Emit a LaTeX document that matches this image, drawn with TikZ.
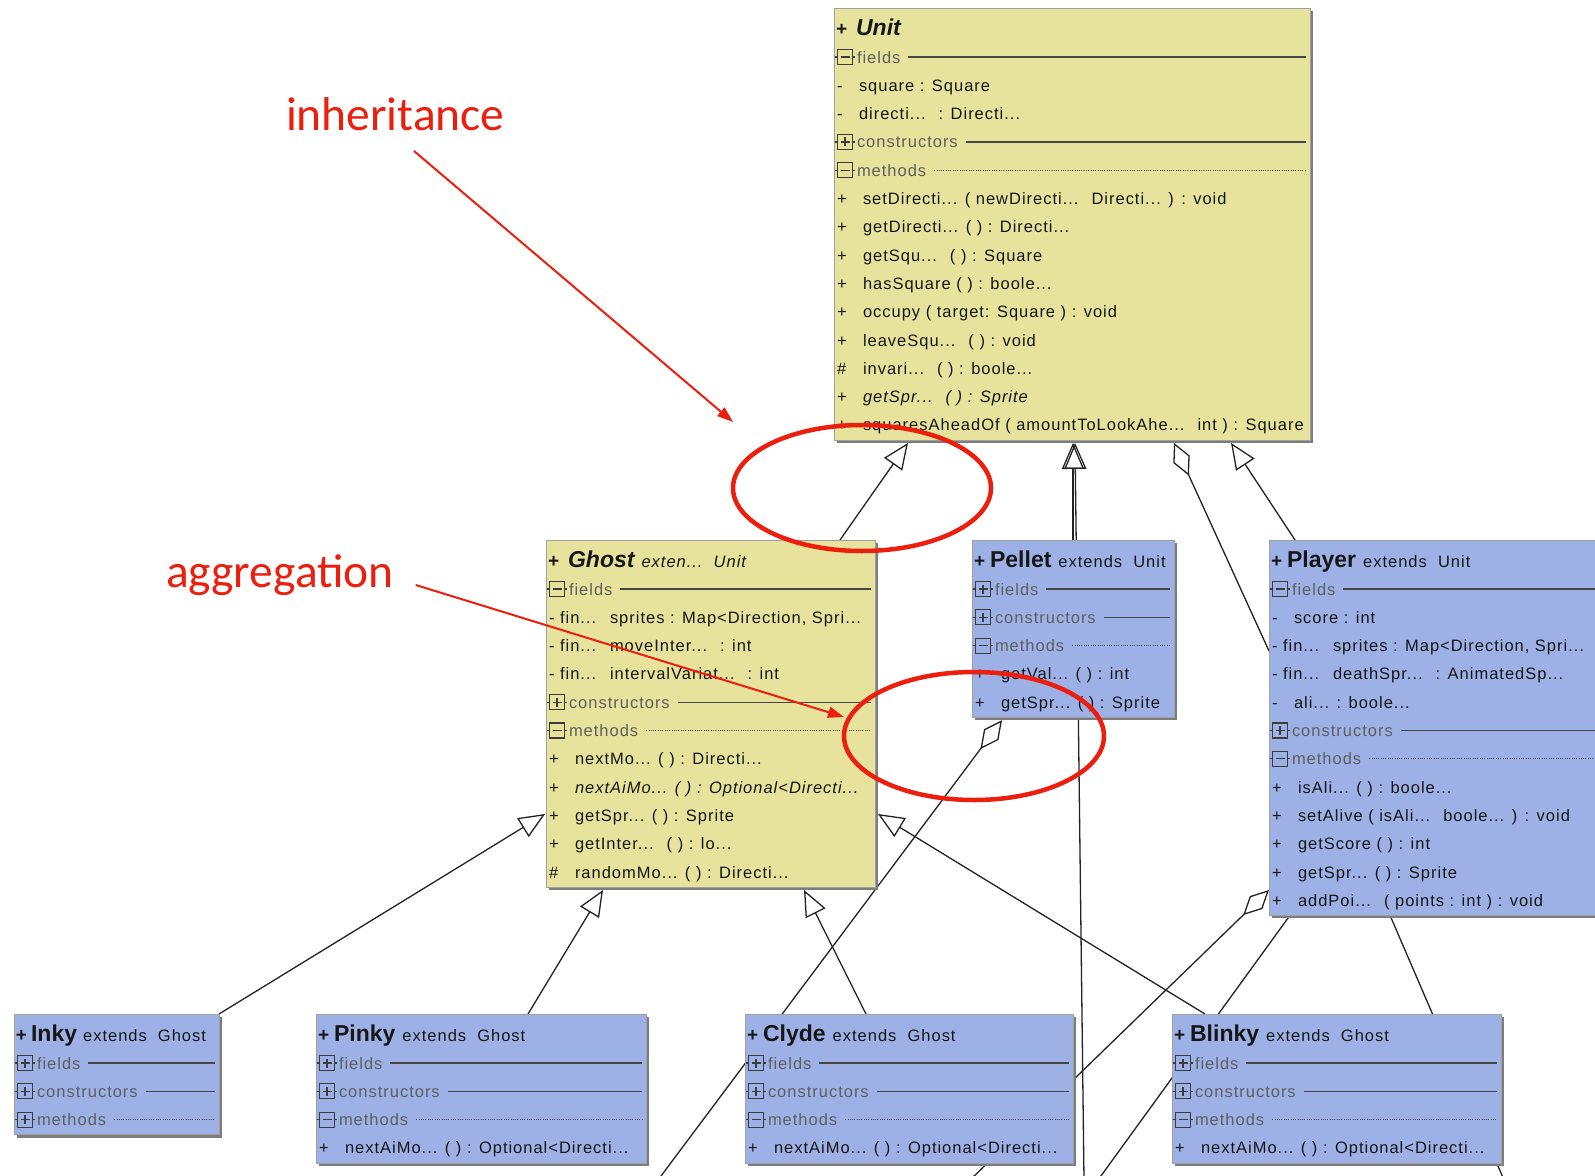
\documentclass[tikz,border=0pt]{standalone}
\usepackage{fontspec}
\usetikzlibrary{calc,arrows.meta,shapes.geometric}
\newfontfamily\umlfont{Liberation Sans}[LetterSpace=6]
\newfontfamily\umlhead{Liberation Sans}
\newfontfamily\notefont{Carlito}

\definecolor{umlyellow}{RGB}{231,227,157}
\definecolor{umlblue}{RGB}{157,177,231}
\definecolor{boxedge}{RGB}{160,160,160}
\definecolor{boxshadow}{RGB}{125,125,125}
\definecolor{umltext}{RGB}{22,22,22}
\definecolor{sectext}{RGB}{95,95,95}
\definecolor{sepline}{RGB}{70,70,70}
\definecolor{iconline}{RGB}{60,60,60}
\definecolor{wirecol}{RGB}{35,35,35}
\definecolor{notered}{RGB}{236,30,14}

\pgfdeclarelayer{paper}
\pgfdeclarelayer{wires}
\pgfsetlayers{paper,wires,main}

\tikzset{
  every node/.style={inner sep=0pt, outer sep=0pt},
  rowtext/.style={font=\umlfont\fontsize{16.5}{18}\selectfont, text=umltext, anchor=base west},
  sectext/.style={font=\umlfont\fontsize{16.5}{18}\selectfont, text=sectext, anchor=base west},
  classbox/.style={draw=boxedge, line width=0.8pt, anchor=north west},
  yellowclass/.style={classbox, fill=umlyellow},
  blueclass/.style={classbox, fill=umlblue},
  solidsep/.style={draw=sepline, line width=1.2pt},
  dotsep/.style={draw=sepline, line width=0.9pt, dash pattern=on 0.9pt off 1.4pt},
  iconstroke/.style={draw=iconline, line width=1.2pt},
  wire/.style={draw=wirecol, line width=1.3pt},
  inherit/.style={wire, -{Triangle[open, length=26pt, width=22pt]}},
  aggreg/.style={wire, {Diamond[open, length=36pt, width=18pt]}-},
  notearrow/.style={draw=notered, line width=2pt, -{Triangle[length=16pt, width=11pt]}},
  notering/.style={draw=notered, line width=4.5pt, ellipse},
  notetext/.style={font=\notefont\fontsize{47.5}{50}\selectfont, text=notered, anchor=base west},
}

% class box with drop shadow: name, style, left, top, width, number of rows
\newcommand\umlclass[6]{%
  \pgfmathsetmacro\clsh{64+(#6-1)*28.3}%
  \fill[boxshadow] (#3+3,#4+3) rectangle ++(#5,\clsh);
  \node[#2, minimum width=#5*1pt, minimum height=\clsh*1pt] (#1) at (#3,#4) {};
}
\newcommand\umltitle[2]{%
  \node[anchor=base west, text=umltext] (#1-title) at ($(#1.north west)+(2,27)$) {#2};
}
\newcommand\plusmark{{\umlhead\bfseries\fontsize{19}{20}\selectfont+}}
\newcommand\clsname[1]{{\umlhead\bfseries\fontsize{23}{26}\selectfont#1}}
\newcommand\clsnote[1]{{\umlfont\fontsize{16.5}{18}\selectfont#1}}

% compartment header: box, row, plus(1)/minus(0), label, separator style
\newcommand\umlsec[5]{%
  \pgfmathsetmacro\secy{49+(#2-1)*28.3}%
  \coordinate (#1-s#2) at ($(#1.north west)+(0,\secy)$);
  \draw[iconstroke] ($(#1-s#2)+(3.5,-7.5)$) rectangle ($(#1-s#2)+(18.5,7.5)$);
  \draw[iconstroke] ($(#1-s#2)+(0.5,0)$) -- ($(#1-s#2)+(3.5,0)$)
                    ($(#1-s#2)+(18.5,0)$) -- ($(#1-s#2)+(21,0)$)
                    ($(#1-s#2)+(6.5,0)$) -- ($(#1-s#2)+(15.5,0)$);
  \ifnum#3=1 \draw[iconstroke] ($(#1-s#2)+(11,-4.5)$) -- ($(#1-s#2)+(11,4.5)$);\fi
  \node[sectext] (#1-h#2) at ($(#1-s#2)+(23,6)$) {#4};
  \draw[#5] ($(#1-h#2.east |- #1-s#2)+(8,0)$) -- ($(#1.north east)+(-4,\secy)$);
}
% member row: box, row, visibility marker, text offset, text
\newcommand\umlrow[5]{%
  \pgfmathsetmacro\rowy{55+(#2-1)*28.3}%
  \node[rowtext] (#1-m#2) at ($(#1.north west)+(3,\rowy)$) {#3};
  \node[rowtext] (#1-t#2) at ($(#1.north west)+(#4,\rowy)$) {#5};
}
\newcommand\umlfield[4]{\umlrow{#1}{#2}{#3}{25}{#4}}
\newcommand\umlmethod[4]{\umlrow{#1}{#2}{#3}{29}{#4}}
\newcommand\umlfinal[3]{\umlrow{#1}{#2}{- fin...}{64}{#3}}

\begin{document}
\begin{tikzpicture}[x=1pt,y=-1pt]
\useasboundingbox (0,0) rectangle (1595,1175);
\begin{pgfonlayer}{paper}
  \fill[white] (0,0) rectangle (1595,1175);
\end{pgfonlayer}

% ---------- Unit ----------
\umlclass{unit}{yellowclass}{834}{8}{476}{14}
\umltitle{unit}{\plusmark\hspace{9pt}\clsname{\itshape Unit}}
\umlsec{unit}{1}{0}{fields}{solidsep}
\umlfield{unit}{2}{-}{square : Square}
\umlfield{unit}{3}{-}{directi...~ : Directi...}
\umlsec{unit}{4}{1}{constructors}{solidsep}
\umlsec{unit}{5}{0}{methods}{dotsep}
\umlmethod{unit}{6}{+}{setDirecti... ( newDirecti...~ Directi... ) : void}
\umlmethod{unit}{7}{+}{getDirecti... ( ) : Directi...}
\umlmethod{unit}{8}{+}{getSqu...~ ( ) : Square}
\umlmethod{unit}{9}{+}{hasSquare ( ) : boole...}
\umlmethod{unit}{10}{+}{occupy ( target: Square ) : void}
\umlmethod{unit}{11}{+}{leaveSqu...~ ( ) : void}
\umlmethod{unit}{12}{\#}{invari...~ ( ) : boole...}
\umlmethod{unit}{13}{+}{\itshape getSpr...~ ( ) : Sprite}
\umlmethod{unit}{14}{+}{squaresAheadOf ( amountToLookAhe...~ int ) : Square}

% ---------- Ghost ----------
\umlclass{ghost}{yellowclass}{546}{540}{329}{11}
\umltitle{ghost}{\plusmark\hspace{9pt}\clsname{\itshape Ghost}\hspace{7pt}\clsnote{\itshape exten...~~Unit}}
\umlsec{ghost}{1}{0}{fields}{solidsep}
\umlfinal{ghost}{2}{sprites : Map<Direction, Spri...}
\umlfinal{ghost}{3}{moveInter...~ : int}
\umlfinal{ghost}{4}{intervalVariat...~ : int}
\umlsec{ghost}{5}{1}{constructors}{solidsep}
\umlsec{ghost}{6}{0}{methods}{dotsep}
\umlmethod{ghost}{7}{+}{nextMo... ( ) : Directi...}
\umlmethod{ghost}{8}{+}{\itshape nextAiMo... ( ) : Optional<Directi...}
\umlmethod{ghost}{9}{+}{getSpr... ( ) : Sprite}
\umlmethod{ghost}{10}{+}{getInter...~ ( ) : lo...}
\umlmethod{ghost}{11}{\#}{randomMo... ( ) : Directi...}

% ---------- Pellet ----------
\umlclass{pellet}{blueclass}{972}{540}{202}{5}
\umltitle{pellet}{\plusmark\hspace{5pt}\clsname{Pellet}\hspace{7pt}\clsnote{extends~~Unit}}
\umlsec{pellet}{1}{1}{fields}{solidsep}
\umlsec{pellet}{2}{1}{constructors}{solidsep}
\umlsec{pellet}{3}{0}{methods}{dotsep}
\umlmethod{pellet}{4}{+}{getVal... ( ) : int}
\umlmethod{pellet}{5}{+}{getSpr... ( ) : Sprite}

% ---------- Player ----------
\umlclass{player}{blueclass}{1269}{540}{331}{12}
\umltitle{player}{\plusmark\hspace{5pt}\clsname{Player}\hspace{7pt}\clsnote{extends~~Unit}}
\umlsec{player}{1}{0}{fields}{solidsep}
\umlfield{player}{2}{-}{score : int}
\umlfinal{player}{3}{sprites : Map<Direction, Spri...}
\umlfinal{player}{4}{deathSpr...~ : AnimatedSp...}
\umlfield{player}{5}{-}{ali... : boole...}
\umlsec{player}{6}{1}{constructors}{solidsep}
\umlsec{player}{7}{0}{methods}{dotsep}
\umlmethod{player}{8}{+}{isAli... ( ) : boole...}
\umlmethod{player}{9}{+}{setAlive ( isAli...~ boole... ) : void}
\umlmethod{player}{10}{+}{getScore ( ) : int}
\umlmethod{player}{11}{+}{getSpr... ( ) : Sprite}
\umlmethod{player}{12}{+}{addPoi...~ ( points : int ) : void}

% ---------- ghost subclasses ----------
\umlclass{inky}{blueclass}{14}{1014}{205}{3}
\umltitle{inky}{\plusmark\hspace{4pt}\clsname{Inky}\hspace{6pt}\clsnote{extends~~Ghost}}
\umlsec{inky}{1}{1}{fields}{solidsep}
\umlsec{inky}{2}{1}{constructors}{solidsep}
\umlsec{inky}{3}{1}{methods}{dotsep}

\umlclass{pinky}{blueclass}{316}{1014}{330}{4}
\umltitle{pinky}{\plusmark\hspace{5pt}\clsname{Pinky}\hspace{7pt}\clsnote{extends~~Ghost}}
\umlsec{pinky}{1}{1}{fields}{solidsep}
\umlsec{pinky}{2}{1}{constructors}{solidsep}
\umlsec{pinky}{3}{0}{methods}{dotsep}
\umlmethod{pinky}{4}{+}{nextAiMo... ( ) : Optional<Directi...}

\umlclass{clyde}{blueclass}{745}{1014}{328}{4}
\umltitle{clyde}{\plusmark\hspace{5pt}\clsname{Clyde}\hspace{7pt}\clsnote{extends~~Ghost}}
\umlsec{clyde}{1}{1}{fields}{solidsep}
\umlsec{clyde}{2}{1}{constructors}{solidsep}
\umlsec{clyde}{3}{0}{methods}{dotsep}
\umlmethod{clyde}{4}{+}{nextAiMo... ( ) : Optional<Directi...}

\umlclass{blinky}{blueclass}{1172}{1014}{329}{4}
\umltitle{blinky}{\plusmark\hspace{5pt}\clsname{Blinky}\hspace{7pt}\clsnote{extends~~Ghost}}
\umlsec{blinky}{1}{1}{fields}{solidsep}
\umlsec{blinky}{2}{1}{constructors}{solidsep}
\umlsec{blinky}{3}{0}{methods}{dotsep}
\umlmethod{blinky}{4}{+}{nextAiMo... ( ) : Optional<Directi...}

% ---------- connectors (behind the boxes) ----------
\coordinate (offA) at (1084,1180);
\coordinate (offB) at (658,1180);
\coordinate (offC) at (970,1180);
\coordinate (offD) at (1098,1180);
\coordinate (offE) at (1504,1180);
\begin{pgfonlayer}{wires}
  \draw[inherit] ($(ghost.north west)+(294,0)$) -- ($(unit.south west)+(74,3)$);
  \draw[inherit] ($(pellet.north west)+(101,0)$) -- ($(unit.south west)+(239,3)$);
  \draw[inherit] (offA) -- ($(unit.south west)+(241,3)$);
  \draw[aggreg] ($(unit.south west)+(340,3)$) -- ($(player.north west)+(0,111)$);
  \draw[inherit] ($(player.north west)+(26,0)$) -- ($(unit.south west)+(397,3)$);
  \draw[inherit] (inky.north east) -- ($(ghost.north west)+(-1,274)$);
  \draw[inherit] ($(pinky.north west)+(212,0)$) -- ($(ghost.south west)+(57,3)$);
  \draw[inherit] ($(clyde.north west)+(121,0)$) -- ($(ghost.south west)+(258,3)$);
  \draw[inherit] ($(blinky.north west)+(33,0)$) -- ($(ghost.north east)+(3,274)$);
  \draw[aggreg] ($(pellet.south west)+(30,3)$) -- (offB);
  \draw[aggreg] ($(player.north west)+(0,350)$) -- (offC);
  \draw[wire] ($(player.south west)+(21,0)$) -- (offD);
  \draw[wire] ($(player.south west)+(121,0)$) -- (offE);
\end{pgfonlayer}

% ---------- annotations ----------
\node[notetext] (inh) at (286,130) {inheritance};
\node[notetext] (agg) at (166,587) {aggregation};
\node[notering, minimum width=258pt, minimum height=126pt] (ring1) at (862,488) {};
\node[notering, minimum width=260pt, minimum height=128pt] (ring2) at (974,736) {};
\draw[notearrow] ($(inh.base west)+(128,21)$) -- ($(ring1.west)+(0,-66)$);
\draw[notearrow] ($(agg.base east)+(22,-2)$) -- ($(ring2.west)+(0,-19)$);
\end{tikzpicture}
\end{document}
